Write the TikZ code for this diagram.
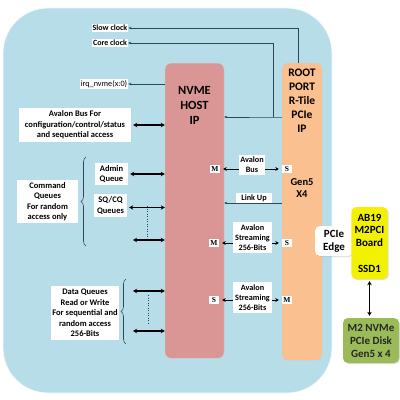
\documentclass[tikz,border=0pt]{standalone}
\usepackage{fontspec}
\setmainfont{Carlito}
\newfontfamily\msfont{Liberation Serif}
\usetikzlibrary{arrows.meta,decorations.pathreplacing,shadows}

\definecolor{bgblue}{RGB}{183,222,232}
\definecolor{hostred}{RGB}{217,150,148}
\definecolor{rootorange}{RGB}{250,192,144}
\definecolor{ssdyellow}{RGB}{242,242,0}
\definecolor{diskgreen}{RGB}{155,187,89}
\definecolor{wire}{RGB}{46,71,86}

\tikzset{
  txtbox/.style={fill=white, inner sep=1pt, align=center, font=\bfseries\fontsize{8.5}{10.4}\selectfont},
  midbox/.style={txtbox, font=\bfseries\fontsize{8.2}{10.2}\selectfont},
  msbox/.style={fill=white, inner sep=0.5pt, minimum width=10pt, minimum height=8pt, font=\msfont\bfseries\fontsize{7.5}{8}\selectfont},
  ipbox/.style={rounded corners=6pt, draw=white!60!gray, line width=0.4pt, minimum width=#1, anchor=north},
  title/.style={align=center, font=\bfseries\fontsize{11.5}{14}\selectfont},
  extbox/.style={rounded corners=5pt, align=center, drop shadow={opacity=0.25,shadow xshift=1pt,shadow yshift=-1pt}, font=\bfseries\fontsize{11}{12.7}\selectfont},
  clk/.style={draw=wire, line width=0.6pt, -{Stealth[length=3pt,width=2.6pt]}},
  dbl/.style={draw=black, line width=1.2pt, {Stealth[length=4pt,width=4.5pt]}-{Stealth[length=4pt,width=4.5pt]}, shorten <=2pt},
  sarr/.style={draw=black, line width=1pt, -{Stealth[length=3.5pt,width=4pt]}, shorten >=3pt},
  vdots/.style={draw=wire, line width=0.5pt, dotted},
  brc/.style={draw=wire, line width=0.6pt, decorate, decoration={brace, amplitude=5pt}},
}

\begin{document}
\begin{tikzpicture}[x=1pt,y=1pt,yscale=-1,xscale=1]
\useasboundingbox (0,0) rectangle (400,400);

% Background
\draw[fill=bgblue, draw=white!85!bgblue, line width=0.8pt, rounded corners=45pt] (3,8) rectangle (332,393);

% IP blocks
\node[ipbox=59pt, fill=hostred, minimum height=295pt] (host) at (194.5,63) {};
\node[ipbox=40pt, fill=rootorange, minimum height=297pt] (root) at (302,63) {};

% Text Node
\node[title, font=\bfseries\fontsize{12.5}{15}\selectfont] (hosttxt) at (194.5,105) {NVME\\HOST\\IP};
\node[title] (roottxt) at (302,101) {ROOT\\PORT\\R-Tile\\PCIe\\IP};
\node[title, font=\bfseries\fontsize{10.5}{12.5}\selectfont] (gentxt) at (302,188) {Gen5\\X4};

% Clocks and irq
\node[txtbox, font=\bfseries\fontsize{8}{9}\selectfont] (slow) at (110,28) {Slow clock};
\node[txtbox, font=\bfseries\fontsize{8}{9}\selectfont] (core) at (110,43) {Core clock};
\node[txtbox, font=\fontsize{8.2}{9}\selectfont] (irq) at (104,84) {irq\_nvme(x:0)};
\coordinate (cb) at (273,117);
\draw[clk] ([xshift=-4pt]root.north) |- (slow.east);
\draw[clk] (root.west |- cb) -- (cb) -- (cb -| host.east);
\draw[clk] (cb) |- (core.east);
\draw[clk] (host.west |- irq) -- (irq.east);

% Avalon bus for configuration
\node[txtbox, minimum width=112pt, minimum height=34pt] (cfg) at (75,125) {Avalon Bus For\\configuration/control/status\\and sequential access};
\draw[dbl] (cfg.east) -- (cfg.east -| host.west);

% Command queues
\node[txtbox, minimum width=33pt, minimum height=22pt] (adm) at (111.5,174) {Admin\\Queue};
\node[txtbox, minimum width=33pt, minimum height=23pt] (sq) at (110.5,205.5) {SQ/CQ\\Queues};
\coordinate (q3) at (131,240);
\draw[dbl] (adm.east) -- (adm.east -| host.west);
\draw[dbl] ([yshift=2pt]sq.east) -- ([yshift=2pt]sq.east -| host.west);
\draw[dbl] (q3) -- (q3 -| host.west);
\draw[vdots] (147,206) -- (147,237);
\draw[brc] (86,246) -- (86,157);
\node[txtbox, minimum width=61pt, minimum height=43pt] (cmd) at (47.5,201.5) {Command\\Queues\\For random\\access only};

% Data queues
\node[txtbox, minimum width=67pt, minimum height=54pt] (data) at (85,313) {Data Queues\\Read or Write\\For sequential and\\random access\\256-Bits};
\coordinate (d1) at (131,291);
\coordinate (d2) at (131,331);
\draw[dbl] (d1) -- (d1 -| host.west);
\draw[dbl] (d2) -- (d2 -| host.west);
\draw[vdots] (148,295) -- (148,323);
\draw[brc] (126,344) -- (126,279);

% Avalon bus between host and root port
\node[midbox, minimum width=26pt, minimum height=20pt] (avb) at (252,165) {Avalon\\Bus};
\node[msbox] (m1) at (215,169) {M};
\node[msbox] (s1) at (287,169) {S};
\draw[sarr] (avb.west |- m1) -- (m1.east);
\draw[sarr] (avb.east |- s1) -- (s1.west);

% Link up
\node[midbox, minimum width=36pt, minimum height=10pt, anchor=south] (lu) at (254,203) {Link Up};
\draw[clk] (root.west |- lu.south) -- (host.east |- lu.south);

% Avalon streaming
\node[midbox, minimum width=39pt, minimum height=31pt] (st1) at (252.5,237.5) {Avalon\\Streaming\\256-Bits};
\node[msbox] (m2) at (214,243) {M};
\node[msbox] (s2) at (287,243) {S};
\draw[sarr] (st1.west |- m2) -- (m2.east);
\draw[sarr] (st1.east |- s2) -- (s2.west);
\node[midbox, minimum width=39pt, minimum height=31pt] (st2) at (252.5,297.5) {Avalon\\Streaming\\256-Bits};
\node[msbox] (s3) at (214,300) {S};
\node[msbox] (m3) at (287,300) {M};
\draw[sarr] (st2.west |- s3) -- (s3.east);
\draw[sarr] (st2.east |- m3) -- (m3.west);

% Board and disk
\node[extbox, fill=white, minimum width=38pt, minimum height=30pt] (edge) at (334,241) {PCIe\\Edge};
\node[extbox, fill=ssdyellow, minimum width=35pt, minimum height=72pt] (ab) at (369.5,243) {AB19\\M2PCI\\Board\\[13pt]SSD1};
\node[extbox, fill=diskgreen, minimum width=56pt, minimum height=45pt, text=black!85, font=\bfseries\fontsize{11}{13}\selectfont] (disk) at (371,340.5) {M2 NVMe\\PCIe Disk\\Gen5 x 4};
\draw[dbl, shorten >=2pt] (ab.south) -- (ab.south |- disk.north);

\end{tikzpicture}
\end{document}
